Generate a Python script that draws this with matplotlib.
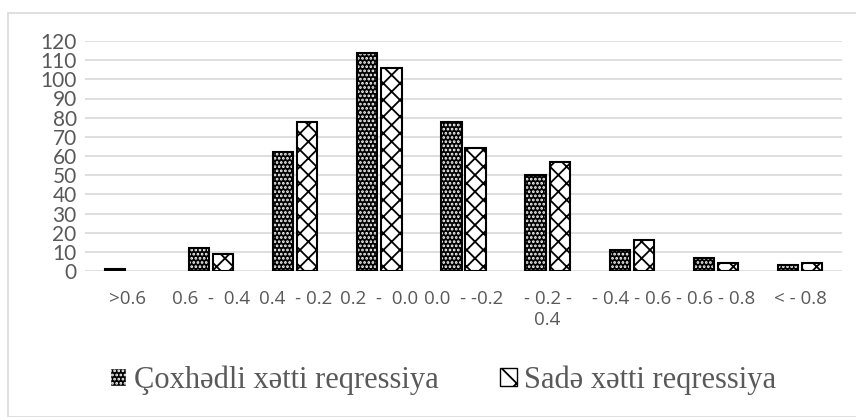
import matplotlib.pyplot as plt
from matplotlib.patches import Rectangle
import numpy as np

plt.rcParams['hatch.linewidth'] = 1.3

categories = ['>0.6', '0.6  -  0.4', '0.4  - 0.2', '0.2  -  0.0', '0.0  - -0.2',
              '- 0.2 -\n0.4', '- 0.4 - 0.6', '- 0.6 - 0.8', '< - 0.8']
coxhedli = [1, 12, 62, 114, 78, 50, 11, 7, 3]
sade = [0, 9, 78, 106, 64, 57, 16, 4, 4]
yticks = list(range(0, 121, 10))
names = ['Çoxhədli xətti reqressiya', 'Sadə xətti reqressiya']

fig = plt.figure(figsize=(8.56, 4.17), dpi=100)
ax = fig.add_axes([85/856, 1-271/417, (842-85)/856, 230/417])

x = np.arange(len(categories))
w = 0.24
off = 0.143
# black bars with white dots
ax.bar(x - off, coxhedli, w, color='black', edgecolor='white', hatch='....', lw=0, zorder=3)
ax.bar(x - off, coxhedli, w, fill=False, edgecolor='black',
       lw=[1.5 if v > 0 else 0 for v in coxhedli], zorder=4)
# white bars with diagonal pattern
ax.bar(x + off, sade, w, color='white', edgecolor='black', hatch='xx',
       lw=[1.5 if v > 0 else 0 for v in sade], zorder=3)

ax.set_xlim(-0.5, len(categories) - 0.5)
ax.set_ylim(0, 120)
ax.set_yticks(yticks)
ax.set_xticks(x)
ax.set_xticklabels(categories, fontsize=13.5, color='#595959', family='Open Sans', linespacing=1.2)
ax.set_yticklabels([str(t) for t in yticks], fontsize=15, color='#595959', family='Lato')
ax.tick_params(length=0, pad=6)
ax.tick_params(axis='x', pad=14)
ax.grid(axis='y', color='#d9d9d9', lw=1.2, zorder=0)
for s in ax.spines.values():
    s.set_visible(False)

fig.patches.append(Rectangle((8/856, 0), 1, 1-13/417, transform=fig.transFigure,
                             fill=False, edgecolor='#d9d9d9', lw=1.2))

h1 = Rectangle((0, 0), 1, 1, facecolor='black', edgecolor='white', hatch='....', lw=1)
h2 = Rectangle((0, 0), 1, 1, facecolor='white', edgecolor='black', hatch='x', lw=1)
fig.legend([h1, h2], names, loc='center', bbox_to_anchor=(443/856, 1-380/417), ncol=2,
           frameon=False, prop={'family': 'Liberation Serif', 'size': 22},
           labelcolor='#595959', handlelength=0.55, handleheight=0.55, handletextpad=0.25,
           columnspacing=2.0)

fig.savefig('out.png', dpi=100)
